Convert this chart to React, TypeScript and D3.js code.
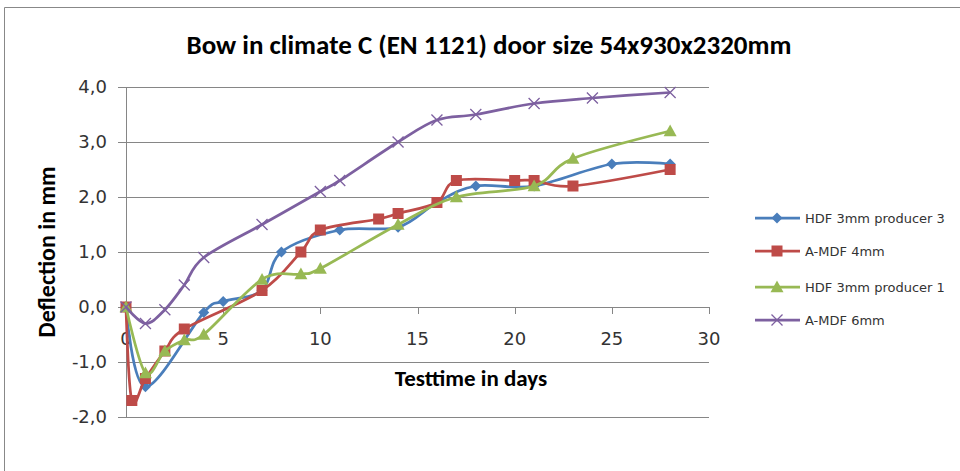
import React from 'react';
import * as d3 from 'd3';

// Testtime (days) and bow (mm) per door panel
const hdf3Days = [0, 1, 4, 5, 7, 8, 11, 14, 16, 18, 21, 25, 28];
const hdf3Bow = [0, -1.45, -0.1, 0.1, 0.3, 1.0, 1.4, 1.45, 1.9, 2.2, 2.2, 2.6, 2.6];

const amdf4Days = [0, 0.3, 1, 2, 3, 7, 9, 10, 13, 14, 16, 17, 20, 21, 23, 28];
const amdf4Bow = [0, -1.7, -1.3, -0.8, -0.4, 0.3, 1.0, 1.4, 1.6, 1.7, 1.9, 2.3, 2.3, 2.3, 2.2, 2.5];

const hdf1Days = [0, 1, 2, 3, 4, 7, 9, 10, 14, 17, 21, 23, 28];
const hdf1Bow = [0, -1.2, -0.8, -0.6, -0.5, 0.5, 0.6, 0.7, 1.5, 2.0, 2.2, 2.7, 3.2];

const amdf6Days = [0, 1, 2, 3, 4, 7, 10, 11, 14, 16, 18, 21, 24, 28];
const amdf6Bow = [0, -0.3, -0.05, 0.4, 0.9, 1.5, 2.1, 2.3, 3.0, 3.4, 3.5, 3.7, 3.8, 3.9];

const seriesNames = ['HDF 3mm producer 3', 'A-MDF 4mm', 'HDF 3mm producer 1', 'A-MDF 6mm'];
const seriesColors = ['#4a7ebb', '#be4b48', '#98b954', '#7d60a0'];
const seriesMarkers = ['diamond', 'square', 'triangle', 'cross'];

const xTicks = [0, 5, 10, 15, 20, 25, 30];
const yTicks = [-2, -1, 0, 1, 2, 3, 4];

const title = 'Bow in climate C (EN 1121) door size 54x930x2320mm';
const xTitle = 'Testtime in days';
const yTitle = 'Deflection in mm';

const series = [
  { days: hdf3Days, bow: hdf3Bow },
  { days: amdf4Days, bow: amdf4Bow },
  { days: hdf1Days, bow: hdf1Bow },
  { days: amdf6Days, bow: amdf6Bow },
];

const W = 960;
const H = 471;

function Marker({ kind, x, y, color }: { kind: string; x: number; y: number; color: string }) {
  if (kind === 'diamond') {
    const s = 5.5;
    return <path d={`M${x},${y - s}L${x + s},${y}L${x},${y + s}L${x - s},${y}Z`} fill={color} />;
  }
  if (kind === 'square') {
    return <rect x={x - 5.5} y={y - 5.5} width={11} height={11} fill={color} />;
  }
  if (kind === 'triangle') {
    const s = 6.5;
    return <path d={`M${x},${y - s}L${x + s},${y + s * 0.8}L${x - s},${y + s * 0.8}Z`} fill={color} />;
  }
  const s = 5.5;
  return (
    <path
      d={`M${x - s},${y - s}L${x + s},${y + s}M${x - s},${y + s}L${x + s},${y - s}`}
      stroke={color}
      strokeWidth={1.3}
      fill="none"
    />
  );
}

export default function App() {
  const x = d3.scaleLinear().domain([0, 30]).range([126, 709]);
  const y = d3.scaleLinear().domain([-2, 4]).range([417, 87]);

  const line = d3
    .line<[number, number]>()
    .x((d) => x(d[0]))
    .y((d) => y(d[1]))
    .curve(d3.curveCatmullRom.alpha(0));

  const fmt = (v: number) => v.toFixed(1).replace('.', ',');
  const tickFont = "'DejaVu Sans', Verdana, sans-serif";
  const titleFont = "Carlito, 'Open Sans', 'Liberation Sans', sans-serif";

  const legendY = [218, 251, 287, 320];

  return (
    <svg width={W} height={H} style={{ position: 'absolute', left: 0, top: 0 }}>
      <rect x={0} y={0} width={W} height={H} fill="#fff" />
      {/* chart frame */}
      <path d={`M4.5,${H}V7.5H${W}`} fill="none" stroke="#888" strokeWidth={1} />

      <text
        x={489}
        y={54}
        textAnchor="middle"
        fontFamily={titleFont}
        fontWeight="bold"
        fontSize={27}
        fill="#000"
      >
        {title}
      </text>

      {/* gridlines */}
      {yTicks.map((t) => (
        <line key={t} x1={118} x2={709} y1={Math.round(y(t)) + 0.5} y2={Math.round(y(t)) + 0.5} stroke="#868686" />
      ))}
      {/* y axis */}
      <line x1={126.5} x2={126.5} y1={y(4)} y2={y(-2)} stroke="#868686" />
      {yTicks.map((t) => (
        <text
          key={t}
          x={107}
          y={y(t)}
          dy="0.36em"
          textAnchor="end"
          fontFamily={tickFont}
          fontSize={18}
          fill="#333"
        >
          {fmt(t)}
        </text>
      ))}
      {/* x axis at zero */}
      {xTicks.map((t) => (
        <line key={t} x1={Math.round(x(t)) + 0.5} x2={Math.round(x(t)) + 0.5} y1={y(0)} y2={y(0) + 7} stroke="#868686" />
      ))}
      {xTicks.map((t) => (
        <text key={t} x={x(t)} y={345} textAnchor="middle" fontFamily={tickFont} fontSize={18} fill="#333">
          {t}
        </text>
      ))}

      <text
        x={471}
        y={386}
        textAnchor="middle"
        fontFamily={titleFont}
        fontWeight="bold"
        fontSize={23}
        fill="#000"
      >
        {xTitle}
      </text>
      <text
        transform={`translate(55,252) rotate(-90)`}
        textAnchor="middle"
        fontFamily={titleFont}
        fontWeight="bold"
        fontSize={24}
        fill="#000"
      >
        {yTitle}
      </text>

      {/* series */}
      {series.map((s, i) => {
        const pts = s.days.map((d, k) => [d, s.bow[k]] as [number, number]);
        return (
          <g key={i}>
            <path d={line(pts) ?? ''} fill="none" stroke={seriesColors[i]} strokeWidth={2.75} />
            {pts.map((p, k) => (
              <Marker key={k} kind={seriesMarkers[i]} x={x(p[0])} y={y(p[1])} color={seriesColors[i]} />
            ))}
          </g>
        );
      })}

      {/* legend */}
      {seriesNames.map((name, i) => (
        <g key={name}>
          <line x1={755} x2={800} y1={legendY[i]} y2={legendY[i]} stroke={seriesColors[i]} strokeWidth={2.75} />
          <Marker kind={seriesMarkers[i]} x={777} y={legendY[i]} color={seriesColors[i]} />
          <text x={805} y={legendY[i]} dy="0.36em" fontFamily={tickFont} fontSize={13} fill="#333">
            {name}
          </text>
        </g>
      ))}
    </svg>
  );
}
